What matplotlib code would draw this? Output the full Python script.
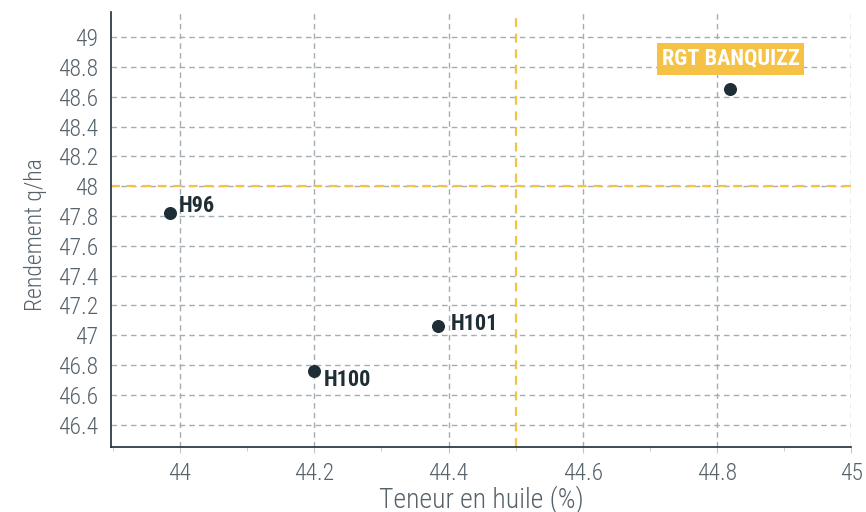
import matplotlib.pyplot as plt
from matplotlib.ticker import MultipleLocator

varieties = ['H96', 'H100', 'H101', 'RGT BANQUIZZ']
oil_content = [43.985, 44.2, 44.385, 44.82]   # %
yield_qha = [47.82, 46.76, 47.06, 48.65]      # q/ha

ref_x = 44.5
ref_y = 48

dark = '#1f2d35'
grey = '#a3adb3'
gold = '#f5c245'
txt_col = '#56626a'
plt.rcParams['font.family'] = ['Roboto Condensed', 'DejaVu Sans']

fig = plt.figure(figsize=(8.66, 5.12), dpi=100)
ax = fig.add_axes([0.128, 0.127, 0.855, 0.85])

ax.set_xlim(43.897, 45.0)
ax.set_ylim(46.25, 49.17)
ax.xaxis.set_minor_locator(MultipleLocator(0.1))
xticks = [44, 44.2, 44.4, 44.6, 44.8, 45]
yticks = [46.4, 46.6, 46.8, 47, 47.2, 47.4, 47.6, 47.8, 48, 48.2, 48.4, 48.6, 48.8, 49]
ax.set_xticks(xticks)
ax.set_xticklabels([f'{v:g}' for v in xticks], fontweight=300)
ax.set_yticks(yticks)
ax.set_yticklabels([f'{v:g}' for v in yticks], fontweight=300)

ax.grid(True, color=grey, linestyle=(0, (4, 3)), linewidth=1)
ax.set_axisbelow(True)
for side in ['top', 'right']:
    ax.spines[side].set_visible(False)
for side in ['left', 'bottom']:
    ax.spines[side].set_color(dark)
    ax.spines[side].set_linewidth(1.2)
ax.tick_params(axis='both', which='both', colors='#c0c6ca', labelcolor=txt_col, labelsize=17)
ax.tick_params(axis='y', length=0, pad=9)
ax.tick_params(axis='x', which='major', length=4, pad=7)
ax.tick_params(axis='x', which='minor', length=3)

ax.axvline(ref_x, color=gold, linestyle=(0, (4, 3)), linewidth=1.6, zorder=2)
ax.axhline(ref_y, color=gold, linestyle=(0, (4, 3)), linewidth=1.6, zorder=2)

ax.scatter(oil_content, yield_qha, s=70, color=dark, zorder=3)

offsets = {'H96': (6, 5),
           'H100': (7, -6.5),
           'H101': (9, 1.5)}
for name, x, y in zip(varieties, oil_content, yield_qha):
    if name in offsets:
        ax.annotate(name, (x, y), textcoords='offset points', xytext=offsets[name],
                    ha='left', va='center', fontsize=16, fontweight='bold', color=dark)
    else:
        ax.annotate(name, (x, y), textcoords='offset points', xytext=(0, 22),
                    ha='center', va='center', fontsize=16, fontweight='bold', color='white',
                    bbox=dict(boxstyle='square,pad=0.22', fc=gold, ec='none'))

ax.set_xlabel('Teneur en huile (%)', fontsize=20, fontweight=300, color=txt_col, labelpad=0)
ax.set_ylabel('Rendement q/ha', fontsize=17, fontweight=300, color=txt_col)
ax.yaxis.set_label_coords(-0.086, 0.487)

fig.savefig('out.png', dpi=100)
